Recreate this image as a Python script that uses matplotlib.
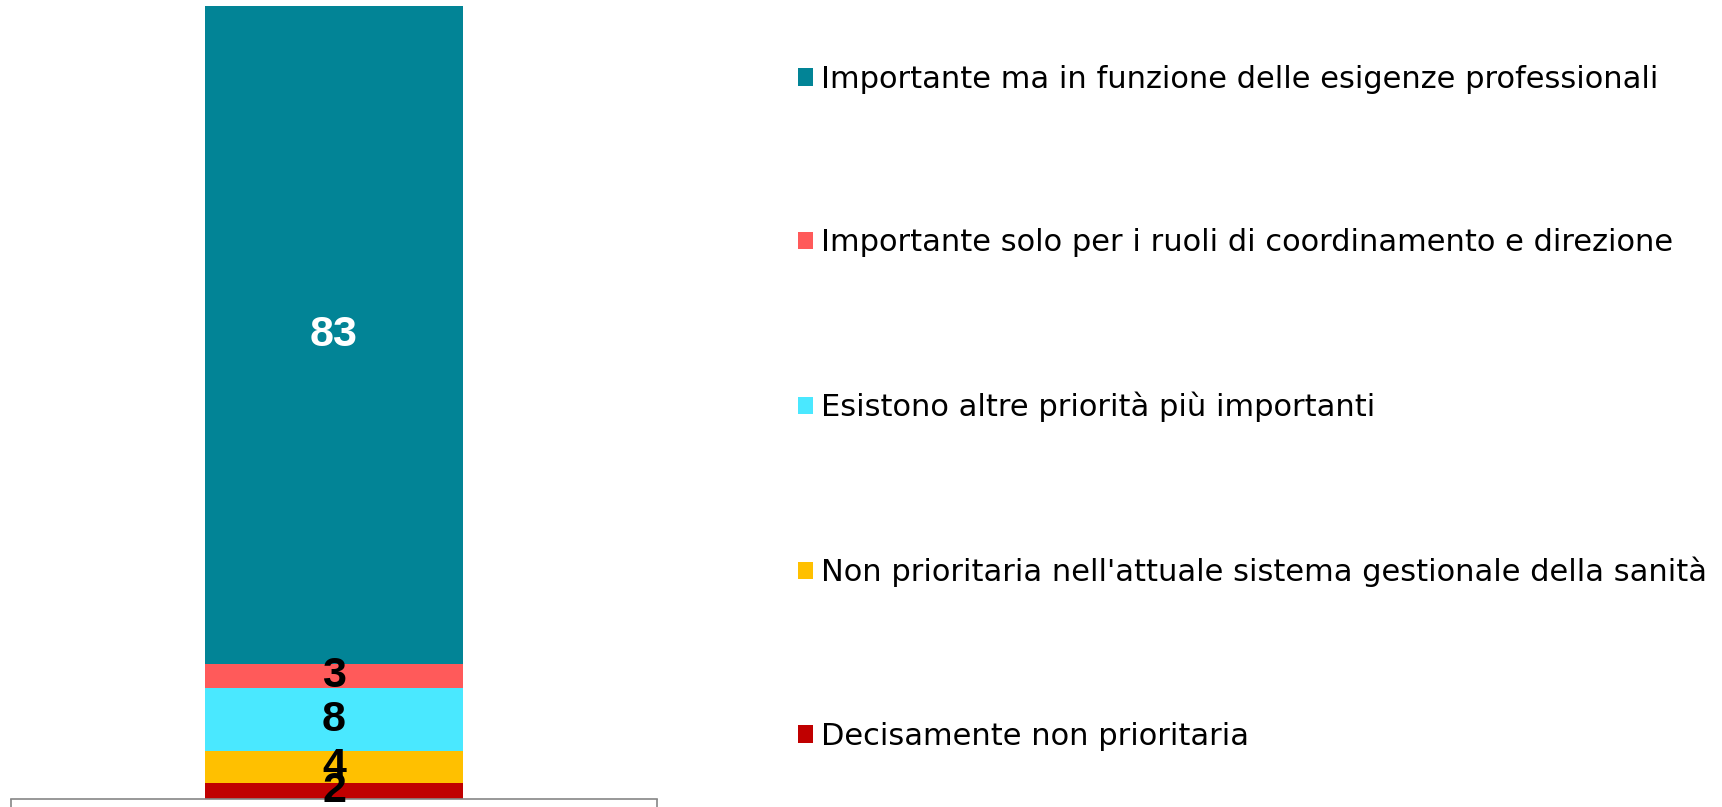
import matplotlib
matplotlib.use("Agg")
import matplotlib.pyplot as plt
from matplotlib.patches import Patch

categories = ["Decisamente non prioritaria",
              "Non prioritaria nell'attuale sistema gestionale della sanità",
              "Esistono altre priorità più importanti",
              "Importante solo per i ruoli di coordinamento e direzione",
              "Importante ma in funzione delle esigenze professionali"]
values = [2, 4, 8, 3, 83]
colors = ["#C00000", "#FFC000", "#4AE8FF", "#FF5A5A", "#028496"]
label_colors = ["black", "black", "black", "black", "white"]

W, H = 1722, 807
fig = plt.figure(figsize=(W/100, H/100), dpi=100)
ax = fig.add_axes([11/W, 8/H, (657-11)/W, (799-5.5)/H])

bottom = 0
for cat, v, c, lc in zip(categories, values, colors, label_colors):
    bars = ax.bar([0], [v], bottom=bottom, width=0.4, color=c, label=cat)
    ax.bar_label(bars, labels=[str(v)], label_type="center", color=lc,
                 fontsize=31, fontweight="bold", family="Liberation Sans")
    bottom += v

ax.set_xlim(-0.5, 0.5)
ax.set_ylim(0, 100)
for s in ["top", "left", "right"]:
    ax.spines[s].set_visible(False)
ax.spines["bottom"].set_color("#868686")
ax.spines["bottom"].set_linewidth(1.2)
ax.set_yticks([])
ax.set_xticks([-0.5, 0.5])
ax.set_xticklabels([])
ax.tick_params(axis="x", length=8, color="#868686", width=1.2, direction="out")
ax.patch.set_visible(False)

handles = [Patch(facecolor=c) for c in colors][::-1]
labels = categories[::-1]
leg = fig.legend(handles, labels, loc="upper left",
                 bbox_to_anchor=(798/W, 1 - 65/H),
                 frameon=False, prop={"family": "DejaVu Sans", "size": 22},
                 handlelength=0.5, handleheight=0.5, handletextpad=0.25,
                 labelspacing=4.4, borderpad=0, borderaxespad=0)

fig.savefig("out.png", dpi=100)
